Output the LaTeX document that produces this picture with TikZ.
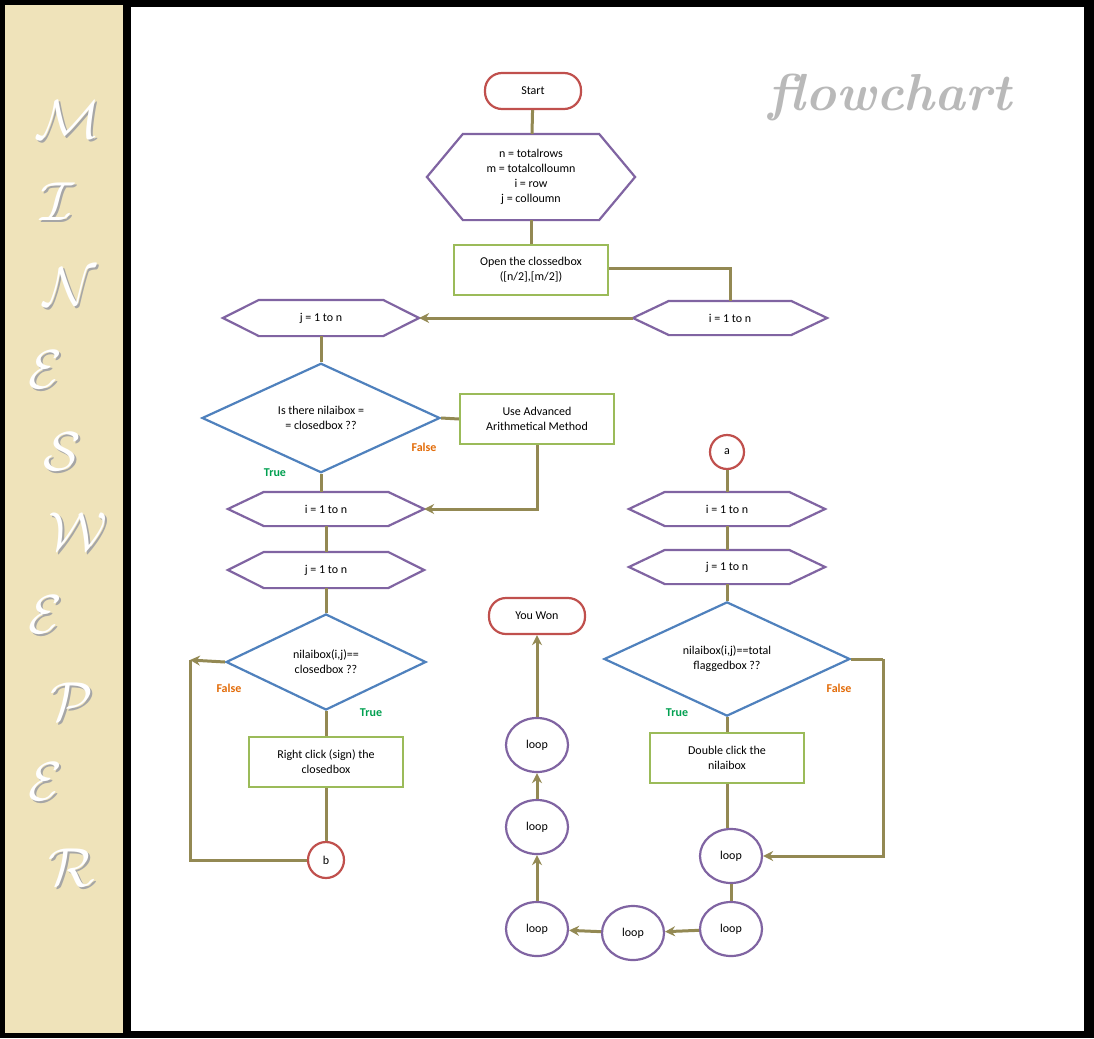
\documentclass[tikz,border=0pt]{standalone}
\usepackage{fontspec}
\setsansfont{Carlito}
\usetikzlibrary{shapes.geometric,arrows.meta}
\definecolor{cred}{HTML}{C0504D}
\definecolor{cpur}{HTML}{8064A2}
\definecolor{cblu}{HTML}{4F81BD}
\definecolor{cgrn}{HTML}{9BBB59}
\definecolor{coli}{HTML}{938953}
\definecolor{ctan}{HTML}{EFE3BA}
\definecolor{ctrue}{HTML}{00A050}
\definecolor{cfalse}{HTML}{E36C09}
\tikzset{
  base/.style={font=\sffamily\fontsize{12}{15}\selectfont, align=center, inner sep=0pt, line width=2.2pt},
  term/.style={base, draw=cred, rounded corners=17pt, minimum width=96pt, minimum height=36pt, fill=white},
  hexn/.style={base, minimum height=#1},
  proc/.style={base, draw=cgrn, minimum width=154pt, minimum height=50pt},
  dec/.style={base, draw=cblu, diamond, minimum width=#1, minimum height=96pt},
  circ/.style={base, draw=cred, circle, minimum size=36pt},
  lp/.style={base, draw=cpur, ellipse, minimum width=62pt, minimum height=54pt},
  con/.style={draw=coli, line width=3pt},
  arr/.style={con, -{Stealth[length=10pt,width=10pt]}},
  tl/.style={font=\sffamily\bfseries\fontsize{12}{14}\selectfont, text=ctrue},
  fl/.style={font=\sffamily\bfseries\fontsize{12}{14}\selectfont, text=cfalse},
  let/.style={text=white}
}
\newcommand{\hexa}[6]{%
  \node[hexn=#5, minimum width=#4] (#1) at (#2,#3) {#6};
  \draw[cpur, line width=2.2pt] (#1.west) -- ([xshift=36pt]#1.north west) -- ([xshift=-36pt]#1.north east) -- (#1.east) -- ([xshift=-36pt]#1.south east) -- ([xshift=36pt]#1.south west) -- cycle;}
\begin{document}
\begin{tikzpicture}[x=1pt,y=-1pt]
\fill[black] (0,0) rectangle (1094,1038);
\fill[ctan] (5,5) rectangle (123,1033);
\fill[white] (131,7) rectangle (1084,1031);
\useasboundingbox (0,0) rectangle (1094,1038);
% letters
\foreach \l/\x/\y in {M/68/120,I/58/202,N/70/287,E/45/370,S/62/452,W/78/532,E/45/615,P/72/702,E/45/782,R/72/868}{
  \node[let, text=black!35] at (\x+2,\y+2) {\scalebox{5.5}{$\mathcal{\l}$}};
  \node[let] at (\x,\y) {\scalebox{5.5}{$\mathcal{\l}$}};}
\node[text=gray!55, font=\bfseries\itshape\fontsize{52}{52}\selectfont] at (890,98) {flowchart};
% nodes
\node[term] (start) at (533,91) {Start};
\hexa{init}{531}{177}{206pt}{84pt}{n = totalrows\\ m = totalcolloumn\\ i = row\\ j = colloumn}
\node[proc] (open) at (531,270) {Open the clossedbox\\ ([n/2],[m/2])};
\hexa{i1}{730}{318}{192pt}{32pt}{i = 1 to n}
\hexa{j1}{321}{318}{194pt}{34pt}{j = 1 to n}
\node[dec=238pt] (d1) at (321,418) {Is there nilaibox =\\ = closedbox ??};
\node[proc] (adv) at (537,419) {Use Advanced\\ Arithmetical Method};
\hexa{i2}{326}{509}{194pt}{32pt}{i = 1 to n}
\hexa{j2}{326}{570}{194pt}{34pt}{j = 1 to n}
\node[dec=200pt] (d2) at (326,662) {nilaibox(i,j)==\\ closedbox ??};
\node[proc] (rc) at (326,762) {Right click (sign) the\\ closedbox};
\node[circ] (b) at (326,860) {b};
\node[term] (won) at (537,616) {You Won};
\node[circ, minimum size=34pt] (a) at (727,452) {a};
\hexa{i3}{727}{509}{194pt}{32pt}{i = 1 to n}
\hexa{j3}{727}{567}{194pt}{32pt}{j = 1 to n}
\node[dec=246pt] (d3) at (727,659) {nilaibox(i,j)==total\\ flaggedbox ??};
\node[proc] (dc) at (727,758) {Double click the\\ nilaibox};
\node[lp] (l1) at (537,745) {loop};
\node[lp] (l2) at (537,827) {loop};
\node[lp] (l3) at (537,929) {loop};
\node[lp] (l4) at (633,933) {loop};
\node[lp] (l5) at (731,929) {loop};
\node[lp] (l6) at (731,856) {loop};
% connectors
\draw[con] (start) -- (init);
\draw[con] (init) -- (open);
\draw[con] (open.east |- 0,268) -| (i1.north);
\draw[arr] (i1.west) -- (j1.east);
\draw[con] (j1) -- (d1);
\draw[con] (d1.east) -- (adv.west);
\draw[arr] (adv.south) |- (i2.east);
\draw[con] (d1.south) -- (d1.south |- i2.north);
\draw[con] (i2) -- (j2);
\draw[con] (j2) -- (d2);
\coordinate (c1) at (190,660);
\draw[arr] (d2.west) -- (c1);
\draw[con] (c1) |- (b.west);
\draw[con] (d2) -- (rc);
\draw[con] (rc) -- (b);
\draw[con] (a) -- (i3);
\draw[con] (i3) -- (j3);
\draw[con] (j3) -- (d3);
\draw[con] (d3) -- (dc);
\coordinate (c2) at (883,659);
\draw[con] (d3.east) -- (c2);
\draw[arr] (c2) |- (l6.east);
\draw[con] (dc.south) -- (dc.south |- l6.north);
\draw[con] (l6) -- (l5);
\draw[arr] (l5) -- (l4);
\draw[arr] (l4) -- (l3);
\draw[arr] (l3) -- (l2);
\draw[arr] (l2) -- (l1);
\draw[arr] (l1) -- (won);
% labels
\node[fl] at (424,447) {False};
\node[tl] at (275,473) {True};
\node[fl] at (229,688) {False};
\node[tl] at (371,713) {True};
\node[tl] at (677,713) {True};
\node[fl] at (839,688) {False};
\end{tikzpicture}
\end{document}
